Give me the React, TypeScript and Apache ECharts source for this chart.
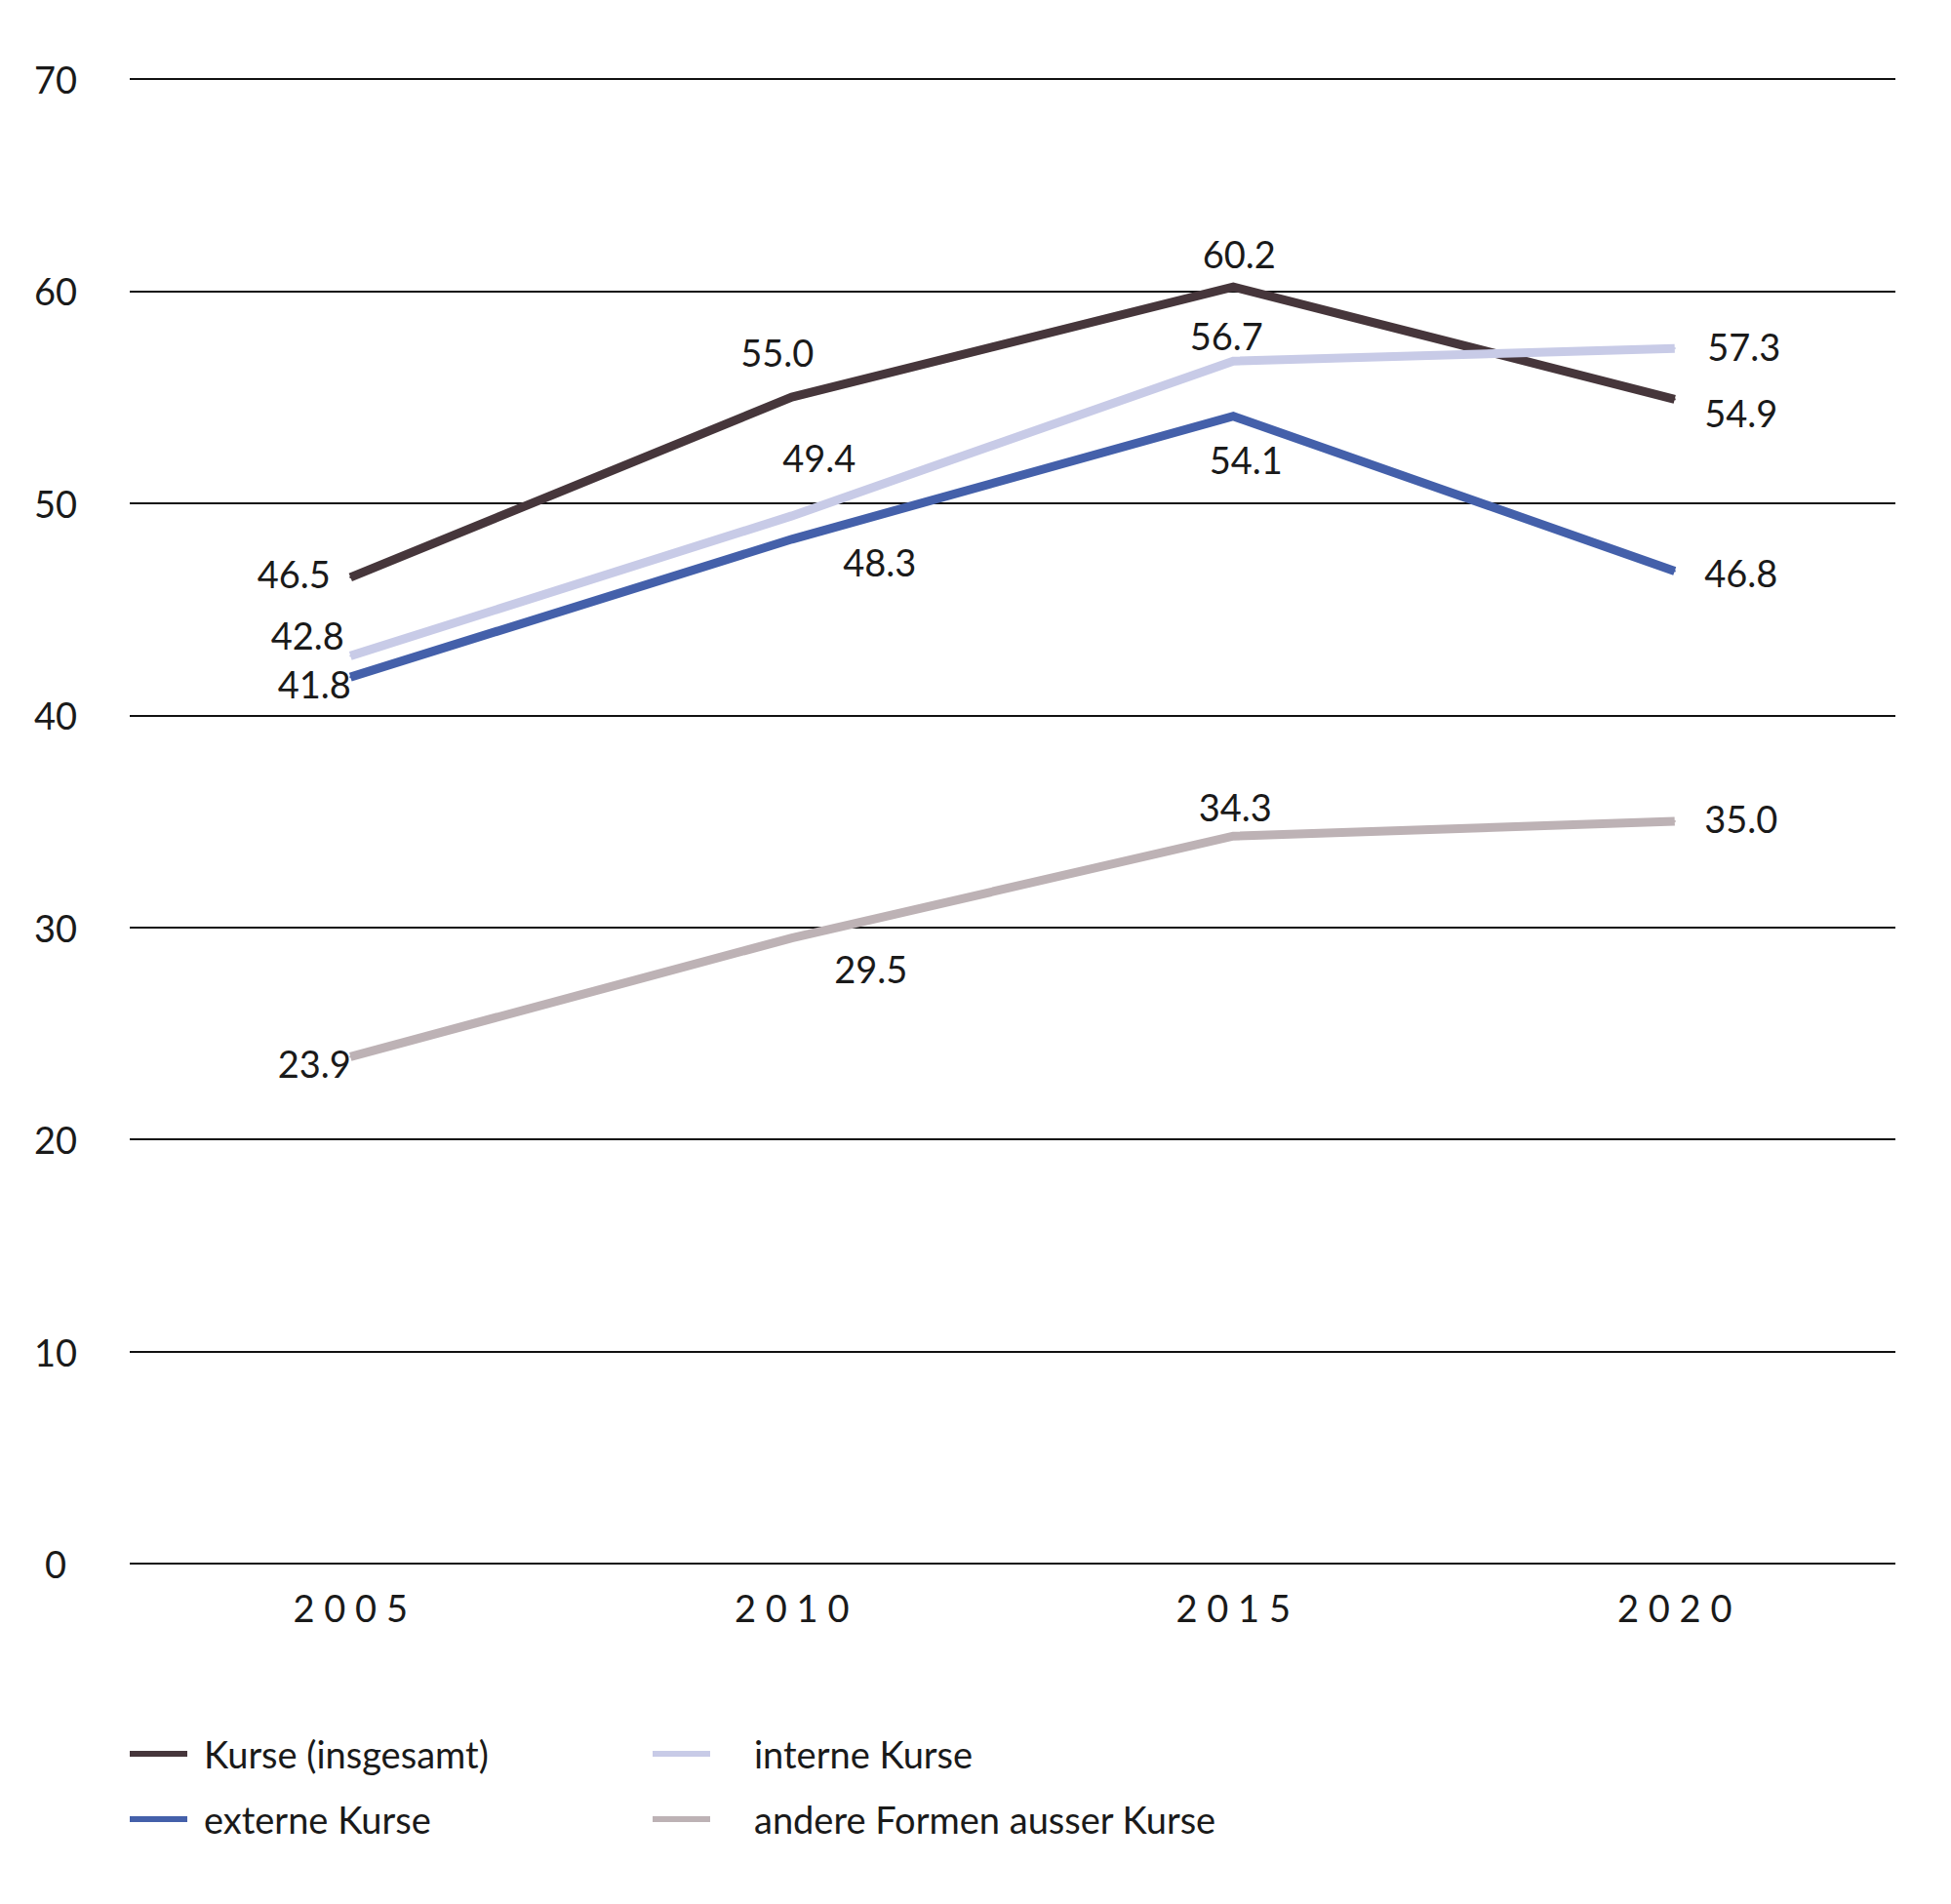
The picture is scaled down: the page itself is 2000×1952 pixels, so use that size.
import { useEffect, useRef } from "react";
import * as echarts from "echarts";

// Daten (Anteile in %)
const YEARS = ["2005", "2010", "2015", "2020"];
const KURSE_GESAMT = [46.5, 55.0, 60.2, 54.9];
const INTERNE_KURSE = [42.8, 49.4, 56.7, 57.3];
const EXTERNE_KURSE = [41.8, 48.3, 54.1, 46.8];
const ANDERE_FORMEN = [23.9, 29.5, 34.3, 35.0];

const Y_MIN = 0;
const Y_MAX = 70;
const Y_STEP = 10;

const FONT = "Lato, 'Noto Sans', sans-serif";
const INK = "#1a1a1a";

// Label-Versatz je Punkt (Mitte des Labels relativ zum Punkt)
const OFFSETS: Record<string, [number, number][]> = {
  kurse: [[-58, -4], [-15, -46], [6, -34], [68, 14]],
  interne: [[-44, -21], [28, -60], [-7, -26], [71, -2]],
  externe: [[-37, 7], [90, 23], [13, 44], [68, 2]],
  andere: [[-37, 7], [81, 31], [2, -30], [68, -3]],
};

function series(name: string, key: string, values: number[], color: string) {
  return {
    name,
    type: "line",
    data: values.map((v, i) => ({
      value: v,
      label: { offset: OFFSETS[key][i] },
    })),
    symbol: "circle",
    symbolSize: 2,
    showSymbol: true,
    itemStyle: { color },
    lineStyle: { color, width: 9, cap: "butt", join: "miter" },
    label: {
      show: true,
      position: "inside",
      align: "center",
      verticalAlign: "middle",
      color: INK,
      fontFamily: FONT,
      fontSize: 38,
      formatter: (p: { value: number }) => p.value.toFixed(1),
    },
    emphasis: { disabled: true },
  };
}

const legendBase = {
  top: 1779, orient: "vertical", itemGap: 29, padding: 0,
  icon: "rect", itemWidth: 59, itemHeight: 6,
  selectedMode: false,
};

export default function App() {
  const ref = useRef<HTMLDivElement>(null);

  useEffect(() => {
    document.body.style.margin = "0";
    if (!ref.current) return;
    const inst = echarts.init(ref.current, undefined, { renderer: "svg" });

    inst.setOption({
      backgroundColor: "#ffffff",
      animation: false,
      grid: { left: 133, right: 57, top: 81, height: 1522 },
      legend: [
        {
          ...legendBase, left: 133,
          textStyle: { fontFamily: FONT, fontSize: 38, color: INK, padding: [0, 0, 0, 12] },
          data: ["Kurse (insgesamt)", "externe Kurse"],
        },
        {
          ...legendBase, left: 669,
          textStyle: { fontFamily: FONT, fontSize: 38, color: INK, padding: [0, 0, 0, 40] },
          data: ["interne Kurse", "andere Formen ausser Kurse"],
        },
      ],
      xAxis: {
        type: "category",
        data: YEARS,
        boundaryGap: true,
        axisLine: { show: false },
        axisTick: { show: false },
        axisLabel: {
          margin: 26,
          color: INK,
          fontFamily: FONT,
          fontSize: 38,
          formatter: (v: string) => v.split("").join(" "),
        },
      },
      yAxis: {
        type: "value",
        min: Y_MIN,
        max: Y_MAX,
        interval: Y_STEP,
        axisLine: { show: false },
        axisTick: { show: false },
        axisLabel: {
          margin: 76,
          align: "center",
          padding: [0, 0, 8, 0],
          color: INK,
          fontFamily: FONT,
          fontSize: 38,
        },
        splitLine: { lineStyle: { color: "#111111", width: 2 } },
      },
      series: [
        series("Kurse (insgesamt)", "kurse", KURSE_GESAMT, "#46363b"),
        series("externe Kurse", "externe", EXTERNE_KURSE, "#4460aa"),
        series("interne Kurse", "interne", INTERNE_KURSE, "#c8cbe7"),
        series("andere Formen ausser Kurse", "andere", ANDERE_FORMEN, "#bdb2b5"),
      ],
    });

    return () => inst.dispose();
  }, []);

  return <div ref={ref} style={{ width: 2000, height: 1952 }} />;
}
